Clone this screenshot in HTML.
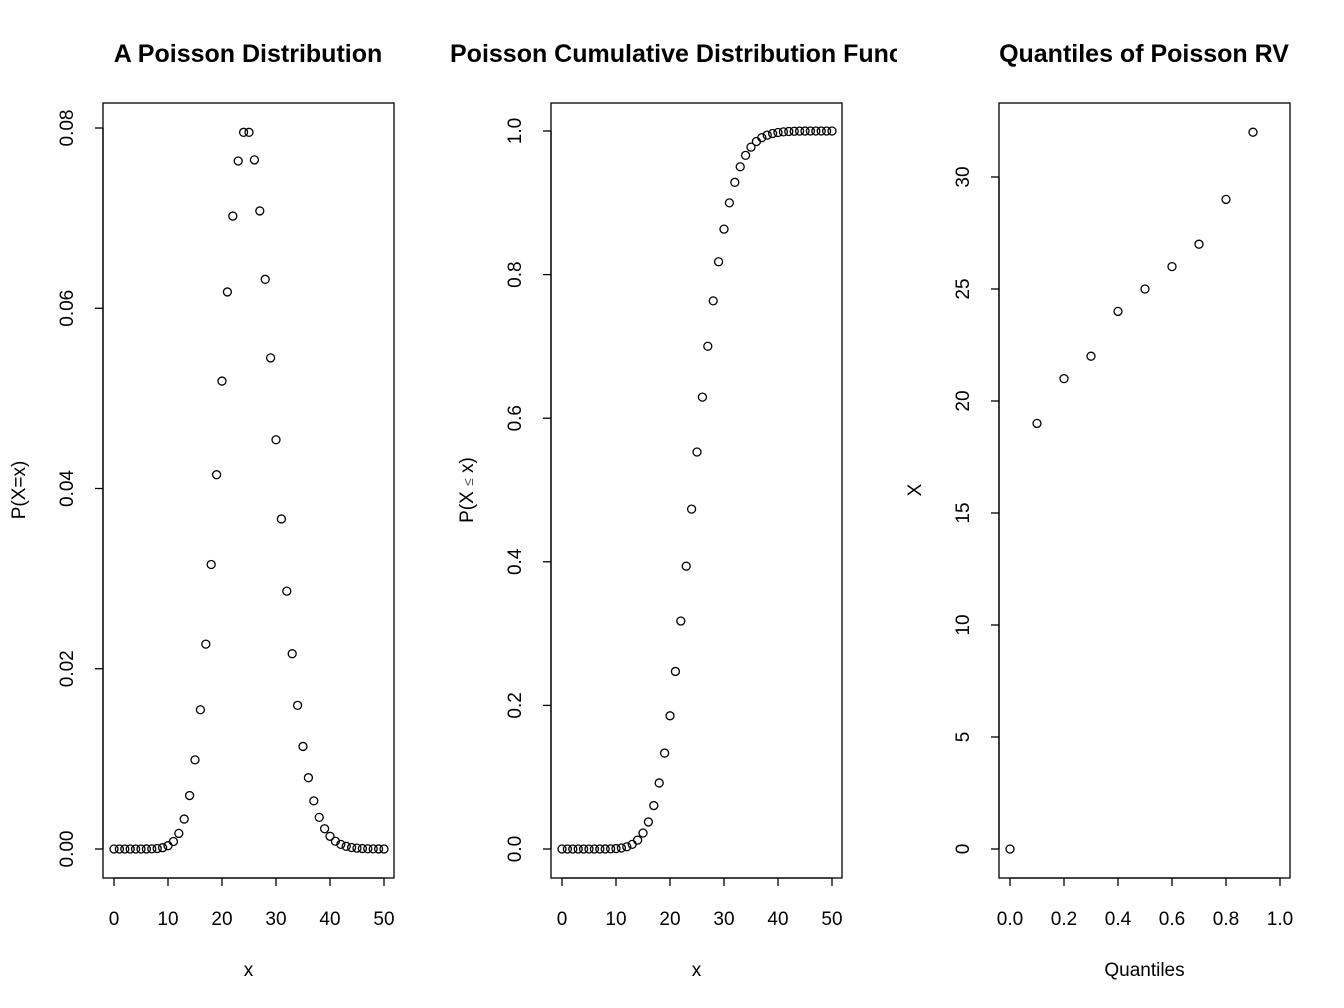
<!DOCTYPE html>
<html><head><meta charset="utf-8"><style>
html,body{margin:0;padding:0;background:#fff;}
svg{display:block;font-family:"Liberation Sans",Arial,sans-serif;}
</style></head><body>
<svg id="chart" width="1344" height="1008" viewBox="0 0 1344 1008" xmlns="http://www.w3.org/2000/svg">
<defs><clipPath id="c2"><rect x="440" y="20" width="457" height="60"/></clipPath></defs>
</svg>
<script>
const xs = [0,1,2,3,4,5,6,7,8,9,10,11,12,13,14,15,16,17,18,19,20,21,22,23,24,25,26,27,28,29,30,31,32,33,34,35,36,37,38,39,40,41,42,43,44,45,46,47,48,49,50];
const pmf = [0,0,0,0,0,0.0000002,0.0000047,0.0000168,0.0000526,0.000146,0.000365,0.00083,0.00173,0.00332,0.00593,0.00989,0.01545,0.02273,0.03157,0.04153,0.05192,0.06181,0.07023,0.07634,0.07952,0.07952,0.07646,0.0708,0.06321,0.05449,0.04541,0.03662,0.02861,0.02167,0.01594,0.01138,0.00791,0.00534,0.00351,0.00225,0.00141,0.00086,0.000512,0.000297,0.000169,0.0000939,0.000051,0.0000271,0.0000141,0.0000072,0.0000036];
const cdf = [0,0,0,0,0,0,0.0000062,0.000023,0.0000756,0.000222,0.000587,0.001417,0.00315,0.00647,0.0124,0.0223,0.0377,0.0605,0.092,0.1336,0.1855,0.2473,0.3175,0.3939,0.4734,0.5529,0.6294,0.7002,0.7634,0.8179,0.8633,0.8999,0.9285,0.9502,0.9661,0.9775,0.9854,0.9908,0.9943,0.9965,0.9979,0.9988,0.9993,0.9996,0.9998,0.9999,1,1,1,1,1];
const probs = [0,0.1,0.2,0.3,0.4,0.5,0.6,0.7,0.8,0.9];
const quants = [0,19,21,22,24,25,26,27,29,32];
const xTicks = [0,10,20,30,40,50];
const qTicks = [0,0.2,0.4,0.6,0.8,1.0];
const qTickLabels = ["0.0","0.2","0.4","0.6","0.8","1.0"];
const y1Ticks = [0,0.02,0.04,0.06,0.08];
const y1Labels = ["0.00","0.02","0.04","0.06","0.08"];
const y2Ticks = [0,0.2,0.4,0.6,0.8,1.0];
const y2Labels = ["0.0","0.2","0.4","0.6","0.8","1.0"];
const y3Ticks = [0,5,10,15,20,25,30];

const svg = document.getElementById('chart');
const NS = 'http://www.w3.org/2000/svg';
function mk(tag, attrs, parent){
  const e = document.createElementNS(NS, tag);
  for (const k in attrs) e.setAttribute(k, attrs[k]);
  (parent||svg).appendChild(e);
  return e;
}
const TOP=103, BOT=878, Y0=849;

function panel(o){
  const g = mk('g', {});
  
  
  const box = mk('rect', {x:o.left, y:TOP, width:291, height:BOT-TOP, fill:'none', stroke:'#000', 'stroke-width':1.3}, g);
  
  
  const t = mk('text', {x:o.titleX, y:62, 'font-size':25, 'font-weight':'bold', 'text-anchor':o.titleAnchor}, g);
  t.textContent = o.title;
  if (o.clip) t.setAttribute('clip-path', 'url(#c2)');
  
  
  const xa = mk('g', {}, g);
  
  
  const xt = o.xTicks;
  mk('line', {x1:o.sx(xt[0]), x2:o.sx(xt[xt.length-1]), y1:BOT, y2:BOT, stroke:'#000', 'stroke-width':1.3}, xa);
  xt.forEach((v,i)=>{
    mk('line', {x1:o.sx(v), x2:o.sx(v), y1:BOT, y2:BOT+8, stroke:'#000', 'stroke-width':1.3}, xa);
    const l = mk('text', {x:o.sx(v), y:925, 'font-size':19, 'text-anchor':'middle'}, xa);
    l.textContent = o.xLabels[i];
    
    
  });
  const xl = mk('text', {x:o.left+145.5, y:976, 'font-size':19, 'text-anchor':'middle'}, g);
  xl.textContent = o.xTitle;
  
  
  const ya = mk('g', {}, g);
  
  
  const yt = o.yTicks;
  mk('line', {x1:o.left, x2:o.left, y1:o.sy(yt[0]), y2:o.sy(yt[yt.length-1]), stroke:'#000', 'stroke-width':1.3}, ya);
  yt.forEach((v,i)=>{
    const y = o.sy(v);
    mk('line', {x1:o.left-8, x2:o.left, y1:y, y2:y, stroke:'#000', 'stroke-width':1.3}, ya);
    const lx = o.left-30;
    const l = mk('text', {x:lx, y:y, 'font-size':19, 'text-anchor':'middle', transform:`rotate(-90 ${lx} ${y})`}, ya);
    l.textContent = o.yLabels[i];
    
    
  });
  const yx = o.left-78, yy = 490;
  const yl = mk('text', {x:yx, y:yy, 'font-size':19, 'text-anchor':'middle', transform:`rotate(-90 ${yx} ${yy})`}, g);
  if (o.yHtml) {
    const a = mk('tspan', {}, yl); a.textContent = 'P(X ';
    const b = mk('tspan', {'font-size':14, fill:'#555'}, yl); b.textContent = '≤';
    const c = mk('tspan', {}, yl); c.textContent = ' x)';
  } else yl.textContent = o.yTitle;
  
  
  const pg = mk('g', {}, g);
  
  
  o.px.forEach((v,i)=>{
    const c = mk('circle', {cx:o.sx(v), cy:o.sy(o.py[i]), r:4, fill:'none', stroke:'#000', 'stroke-width':1.3}, pg);
    
    
  });
}

panel({name:'pmf-panel', left:103, title:'A Poisson Distribution', titleX:248, titleAnchor:'middle',
  sx:v=>114+v*5.4, sy:v=>Y0-v*(721/0.08), xTicks:xTicks, xLabels:xTicks.map(String),
  yTicks:y1Ticks, yLabels:y1Labels, xTitle:'x', yTitle:'P(X=x)', px:xs, py:pmf});
panel({name:'cdf-panel', left:551, title:'Poisson Cumulative Distribution Function', titleX:450, titleAnchor:'start', clip:true,
  sx:v=>562+v*5.4, sy:v=>Y0-v*718, xTicks:xTicks, xLabels:xTicks.map(String),
  yTicks:y2Ticks, yLabels:y2Labels, xTitle:'x', yHtml:true, px:xs, py:cdf});
panel({name:'quantile-panel', left:999, title:'Quantiles of Poisson RV', titleX:1144, titleAnchor:'middle',
  sx:v=>1010+v*270, sy:v=>Y0-v*22.4, xTicks:qTicks, xLabels:qTickLabels,
  yTicks:y3Ticks, yLabels:y3Ticks.map(String), xTitle:'Quantiles', yTitle:'X', px:probs, py:quants});
</script>
</body></html>
